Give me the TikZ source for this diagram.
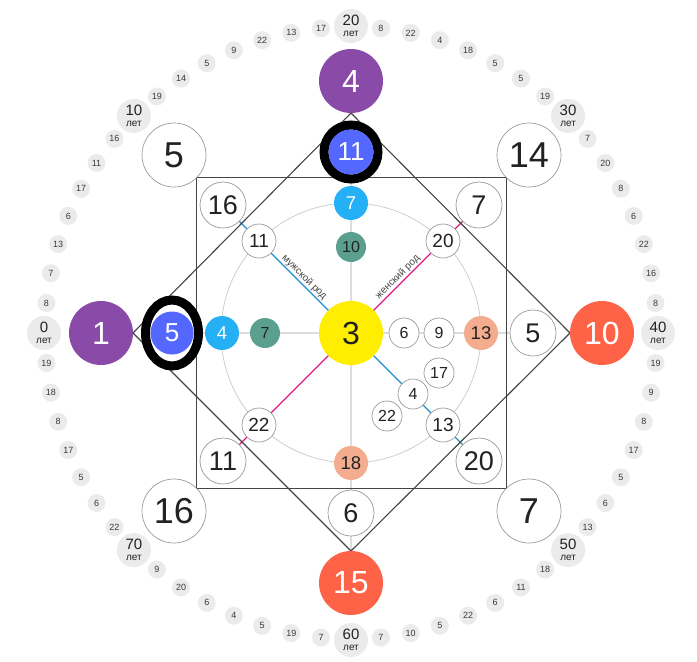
\documentclass[tikz,border=0pt]{standalone}
\usepackage{fontspec}
\setmainfont{Liberation Sans}
\usetikzlibrary{shapes.geometric,backgrounds}
\definecolor{cpurple}{HTML}{8A4AA8}
\definecolor{ctomato}{HTML}{FF6347}
\definecolor{cindigo}{HTML}{5468FF}
\definecolor{csky}{HTML}{25AFF5}
\definecolor{cteal}{HTML}{5B9F8F}
\definecolor{csalmon}{HTML}{F4AC8F}
\definecolor{cyellow}{HTML}{FFEE00}
\definecolor{cmale}{HTML}{1E8FD2}
\definecolor{cfemale}{HTML}{E5157F}
\definecolor{caxis}{HTML}{DDDDDD}
\definecolor{cguide}{HTML}{C8C8C8}
\definecolor{cframe}{HTML}{444444}
\definecolor{crim}{HTML}{9A9A9A}
\definecolor{cdot}{HTML}{EBEBEB}
\definecolor{ctext}{HTML}{222222}
\newcommand\fsz[1]{\fontsize{#1}{#1}\selectfont}
\begin{document}
\begin{tikzpicture}[x=1pt,y=-1pt,
  disc/.style={circle,inner sep=0pt,outer sep=0pt,text=ctext},
  whitebig/.style={disc,fill=white,draw=crim,line width=0.7pt,minimum size=64pt,font=\fsz{36}},
  whitemid/.style={disc,fill=white,draw=crim,line width=0.7pt,minimum size=46pt,font=\fsz{27}},
  whitesm/.style={disc,fill=white,draw=crim,line width=0.7pt,minimum size=34pt,font=\fsz{19}},
  whitexs/.style={disc,fill=white,draw=crim,line width=0.7pt,minimum size=30pt,font=\fsz{16}},
  bigcol/.style={disc,minimum size=64pt,font=\fsz{32},text=white},
  skydisc/.style={disc,fill=csky,minimum size=34pt,font=\fsz{18.5},text=white},
  salmondisc/.style={disc,fill=csalmon,minimum size=34pt,font=\fsz{18.5}},
  tealdisc/.style={disc,fill=cteal,minimum size=30pt,font=\fsz{16}},
  smalldot/.style={disc,fill=cdot,minimum size=18pt,font=\fsz{9},text=ctext!90},
  bigdot/.style={disc,fill=cdot,minimum size=34pt},
  frame/.style={draw=cframe,line width=1.1pt},
  axisline/.style={draw=caxis,line width=1.6pt},
  genderlabel/.style={midway,sloped,above,inner sep=1.5pt,font=\fsz{10},text=cframe}
]
\useasboundingbox (0,0) rectangle (697,662);
% outer ring of years
\foreach \g/\lst in {0/{8,7,13,6,17,11,16},1/{19,14,5,9,22,13,17},2/{8,22,4,18,5,5,19},3/{7,20,8,6,22,16,8},4/{19,9,8,17,5,6,13},5/{18,11,6,22,5,10,7},6/{7,19,5,4,6,20,9},7/{22,6,5,17,8,18,19}}{
  \foreach \v [count=\i] in \lst {
    \pgfmathsetmacro\ang{180-(8*\g+\i)*5.625}
    \node[smalldot] (d\g-\i) at ({351+306*cos(\ang)},{333-306*sin(\ang)}) {\v};
  }
}
\foreach \g/\t in {0/0,1/10,2/20,3/30,4/40,5/50,6/60,7/70}{
  \pgfmathsetmacro\ang{180-45*\g}
  \node[bigdot] (L\g) at ({351+307*cos(\ang)},{333-307*sin(\ang)}) {};
  \node[inner sep=0pt,font=\fsz{15},text=ctext] (Ln\g) at ([yshift=5.5pt]L\g.center) {\t};
  \node[inner sep=0pt,font=\fsz{10},text=ctext] (Ll\g) at ([yshift=-7.5pt]L\g.center) {лет};
}
\coordinate (Cc) at (351,333);
% outer big white circles
\node[whitebig] (o5) at (174,155) {5};
\node[whitebig] (o14) at (529,155) {14};
\node[whitebig] (o16) at (174,511) {16};
\node[whitebig] (o7) at (529,511) {7};
% purple and tomato
\node[bigcol,fill=cpurple] (p4) at (351,81) {4};
\node[bigcol,fill=cpurple] (p1) at (101,333) {1};
\node[bigcol,fill=ctomato] (r10) at (602,333) {10};
\node[bigcol,fill=ctomato] (r15) at (351,583) {15};
% square corner circles
\node[whitemid] (s16) at (223,205) {16};
\node[whitemid] (s7) at (479,205) {7};
\node[whitemid] (s11) at (223,461) {11};
\node[whitemid] (s20) at (479,461) {20};
% white circles on axes
\node[whitemid] (w5) at (533,333) {5};
\node[whitemid] (w6) at (351,513) {6};
% ringed nodes
\node[ellipse,draw=black,line width=9pt,fill=white,minimum width=53pt,minimum height=66pt,inner sep=0pt] (ring5) at (172,333) {};
\node[disc,fill=cindigo,minimum size=43pt,text=white,font=\fsz{26}] (n5) at (ring5.center) {5};
\node[circle,draw=black,line width=9pt,fill=white,minimum size=54pt,inner sep=0pt] (ring11) at (351,152) {};
\node[disc,fill=cindigo,minimum size=45pt,text=white,font=\fsz{26}] (n11) at (ring11.center) {11};
% inner circle nodes
\node[skydisc] (b7) at (351,203) {7};
\node[skydisc] (b4) at (222,333) {4};
\node[salmondisc] (m13) at (481,333) {13};
\node[salmondisc] (m18) at (351,463) {18};
\node[tealdisc] (t10) at (351,247) {10};
\node[tealdisc] (t7) at (265,333) {7};
\node[whitesm] (i11) at (259,241) {11};
\node[whitesm] (i20) at (443,241) {20};
\node[whitesm] (i22) at (259,425) {22};
\node[whitesm] (i13) at (443,425) {13};
\node[whitexs] (a4) at (413,394) {4};
\node[whitexs] (a17) at (439,373) {17};
\node[whitexs] (a22) at (387,416) {22};
\node[whitexs] (a6) at (404,333) {6};
\node[whitexs] (a9) at (439,333) {9};
\node[disc,fill=cyellow,minimum size=64pt,font=\fsz{32}] (y3) at (Cc) {3};
% gender labels
\path (i11) -- (y3) node[genderlabel] (lm) {мужской род};
\path (y3) -- (i20) node[genderlabel] (lf) {женский род};
% all lines behind the nodes
\begin{pgfonlayer}{background}
\draw[cguide,line width=0.7pt] (Cc) circle[radius=130pt];
\draw[axisline] (n5) -- (w5);
\draw[axisline] (n11) -- (r15);
\draw[cmale,line width=1.3pt] (s16) -- (s20);
\draw[cfemale,line width=1.3pt] (s7) -- (s11);
\draw[frame] (o5.south east) -- (o14.south west) -- (o7.north west) -- (o16.north east) -- cycle;
\draw[frame] (p4.south) -- (r10.west) -- (r15.north) -- (p1.east) -- cycle;
\end{pgfonlayer}
\end{tikzpicture}
\end{document}
